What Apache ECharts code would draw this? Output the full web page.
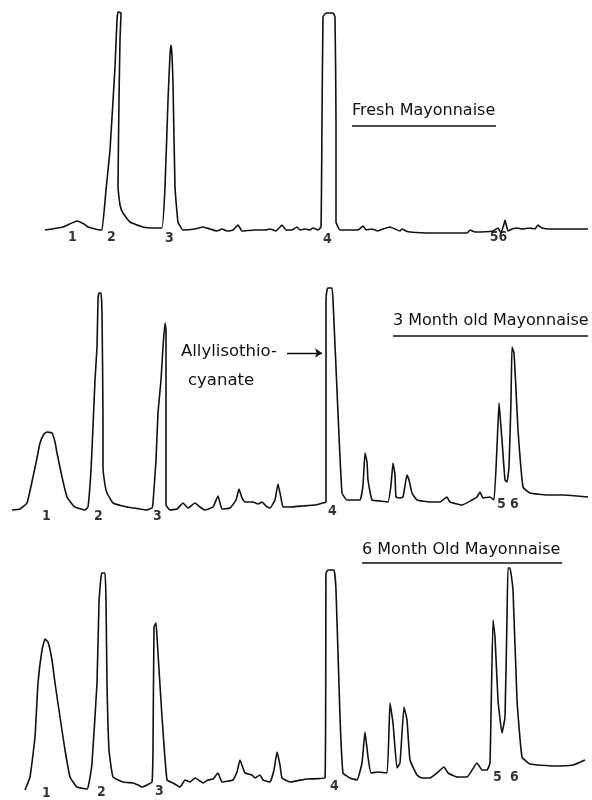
<!DOCTYPE html>
<html>
<head>
<meta charset="utf-8">
<script src="https://cdn.jsdelivr.net/npm/echarts@6/dist/echarts.min.js"></script>
<style>
html,body{margin:0;padding:0;background:#fff;}
#chart{width:592px;height:800px;}
</style>
</head>
<body>
<div id="chart"></div>
<script>
// Retention (arbitrary units) and detector response (arbitrary units)
var freshTrace = [
 [45,0],[63,3],[77,9],[84,6],[88,3],[95,1],[100,0],[102,0],[106,40],[110,80],[115,163],[117,210],[118,218],[121,217],
 [120,190],[119,130],[118,43],[120,25],[123,17],[130,8],[143,3],[155,2],[162,2],[165,43],[168,130],[170,175],[171,185],
 [172,175],[173,147],[175,43],[178,8],[183,0],[195,1],[203,3],[210,1],[217,-1],[222,1],[227,-1],[233,0],[238,5],[242,-1],
 [255,0],[265,0],[270,1],[276,-1],[282,5],[286,0],[292,0],[297,3],[300,0],[305,1],[310,0],[313,2],[318,0],[321,3],
 [322,110],[323,213],[325,216],[327,217],[333,217],[335,213],[336,110],[336,8],[340,0],[350,0],[358,0],[363,4],[366,0],
 [372,1],[378,-1],[383,1],[390,3],[395,1],[400,-1],[402,1],[406,-1],[410,-2],[430,-3],[450,-3],[467,-3],[470,0],[475,-2],
 [493,-1],[498,2],[501,-3],[504,6],[505,10],[506,6],[508,-1],[512,1],[517,2],[522,1],[530,2],[535,1],[538,5],[542,2],
 [550,1],[567,1],[588,1]
];
var threeMonthTrace = [
 [12,0],[20,1],[27,7],[33,33],[37,52],[40,67],[44,76],[47,78],[52,77],[55,68],[57,57],[62,33],[67,13],[72,6],[75,3],
 [85,0],[88,3],[91,40],[93,83],[95,130],[97,163],[98,210],[99,217],[101,217],[102,197],[103,90],[103,43],[105,25],
 [107,17],[113,7],[127,3],[140,1],[146,0],[152,2],[153,7],[156,50],[158,97],[161,130],[163,163],[165,187],[166,180],
 [166,5],[170,0],[177,1],[183,7],[188,2],[195,7],[200,3],[205,0],[213,3],[218,14],[222,1],[230,2],[236,10],[239,21],
 [242,12],[245,8],[253,8],[258,6],[262,8],[266,4],[270,2],[275,10],[278,26],[281,12],[283,3],[290,3],[303,4],[315,5],
 [323,7],[326,8],[326,210],[327,220],[328,222],[332,222],[333,210],[338,97],[342,17],[347,10],[360,10],[363,25],[365,57],
 [367,48],[368,30],[372,10],[380,9],[388,8],[391,25],[393,47],[395,35],[396,13],[400,12],[403,13],[407,35],[409,30],
 [412,17],[417,10],[430,8],[440,8],[447,13],[450,8],[462,5],[472,10],[477,13],[480,18],[483,12],[490,13],[494,10],
 [497,63],[499,107],[500,95],[502,70],[505,30],[507,28],[509,43],[511,110],[512,163],[514,157],[516,120],[518,80],
 [523,23],[530,17],[547,15],[563,15],[577,14],[588,13]
];
var sixMonthTrace = [
 [25,0],[30,13],[35,53],[38,107],[42,140],[45,151],[48,148],[52,130],[55,107],[60,73],[65,40],[70,13],[77,3],[87,1],
 [89,7],[92,27],[97,107],[99,187],[101,213],[102,217],[105,217],[106,190],[107,107],[109,40],[113,13],[123,8],[133,7],
 [138,5],[142,3],[147,5],[152,8],[153,40],[154,163],[156,167],[157,153],[162,73],[167,10],[173,7],[180,3],[185,10],
 [190,8],[195,12],[200,9],[203,7],[208,10],[213,11],[218,17],[222,8],[233,10],[237,18],[240,30],[243,22],[245,17],
 [252,15],[255,12],[260,15],[263,10],[270,8],[274,20],[277,38],[280,25],[282,12],[290,8],[307,11],[325,12],[326,217],
 [328,220],[334,220],[336,200],[340,73],[343,17],[350,12],[357,10],[362,27],[365,58],[368,33],[371,17],[378,18],
 [387,17],[390,87],[393,67],[397,22],[400,27],[404,83],[407,70],[410,30],[417,15],[422,12],[430,12],[437,17],[444,23],
 [448,17],[457,13],[467,13],[477,27],[482,20],[487,20],[490,27],[493,170],[495,153],[498,90],[502,57],[505,73],
 [507,173],[508,222],[510,222],[513,200],[517,90],[522,33],[530,26],[553,24],[573,25],[585,30]
];

// Peak numbers: [label, retention, level]
var freshPeaks = [['1',73,-8],['2',112,-8],['3',170,-9],['4',328,-10],['56',499,-8]];
var threeMonthPeaks = [['1',47,-7],['2',99,-7],['3',158,-7],['4',333,-2],['5',502,5],['6',515,5]];
var sixMonthPeaks = [['1',47,-4],['2',102,-3],['3',160,-2],['4',335,3],['5',498,12],['6',515,12]];

var panelTitles = ['Fresh Mayonnaise', '3 Month old Mayonnaise', '6 Month Old Mayonnaise'];
var annotationLines = ['Allylisothio-', 'cyanate'];
var arrowFrom = [287, 157];
var arrowTo = [322, 157];

var traces = [freshTrace, threeMonthTrace, sixMonthTrace];
var peaks = [freshPeaks, threeMonthPeaks, sixMonthPeaks];
var gridTops = [0, 280, 560];

var INK = '#111111';
var grids = [], xAxes = [], yAxes = [], series = [];
for (var i = 0; i < 3; i++) {
  grids.push({left: 0, right: 0, top: gridTops[i], height: 240, containLabel: false});
  xAxes.push({type: 'value', gridIndex: i, min: 0, max: 592, show: false});
  yAxes.push({type: 'value', gridIndex: i, min: -10, max: 230, show: false});
  var s = {
    type: 'line', xAxisIndex: i, yAxisIndex: i, data: traces[i],
    showSymbol: false, symbol: 'none', smooth: 0.12, clip: false, silent: true,
    lineStyle: {color: INK, width: 1.6}
  };
  if (i === 1) {
    s.markLine = {
      silent: true, symbol: ['none', 'arrow'], symbolSize: 7,
      label: {show: false},
      lineStyle: {color: INK, width: 1.3, type: 'solid'},
      data: [[{coord: arrowFrom}, {coord: arrowTo}]]
    };
  }
  series.push(s);
  series.push({
    type: 'scatter', xAxisIndex: i, yAxisIndex: i, silent: true, clip: false,
    symbolSize: 1, itemStyle: {color: 'rgba(0,0,0,0)'},
    data: peaks[i].map(function (p) { return {name: p[0], value: [p[1], p[2]]}; }),
    label: {show: true, position: [0, 0], align: 'center', verticalAlign: 'middle', formatter: '{b}', color: '#000',
      textBorderWidth: 0,
      fontFamily: '"Liberation Sans Narrow", "DejaVu Sans Condensed", "DejaVu Sans", sans-serif', fontWeight: 'bold', fontSize: 14}
  });
}

var chart = echarts.init(document.getElementById('chart'), null, {renderer: 'canvas'});
chart.setOption({
  backgroundColor: '#ffffff',
  animation: false,
  grid: grids, xAxis: xAxes, yAxis: yAxes, series: series,
  graphic: [
    {type: 'text', left: 352, top: 103, style: {text: panelTitles[0], font: '16px "DejaVu Sans", sans-serif', fill: INK}},
    {type: 'line', shape: {x1: 352, y1: 126, x2: 496, y2: 126}, style: {stroke: INK, lineWidth: 1.3}},
    {type: 'text', left: 393, top: 313, style: {text: panelTitles[1], font: '16px "DejaVu Sans", sans-serif', fill: INK}},
    {type: 'line', shape: {x1: 393, y1: 336, x2: 588, y2: 336}, style: {stroke: INK, lineWidth: 1.3}},
    {type: 'text', left: 362, top: 542, style: {text: panelTitles[2], font: '16px "DejaVu Sans", sans-serif', fill: INK}},
    {type: 'line', shape: {x1: 362, y1: 563, x2: 562, y2: 563}, style: {stroke: INK, lineWidth: 1.3}},
    {type: 'text', left: 181, top: 343, style: {text: annotationLines[0], font: '16.5px "DejaVu Sans", sans-serif', fill: INK}},
    {type: 'text', left: 188, top: 372, style: {text: annotationLines[1], font: '16.5px "DejaVu Sans", sans-serif', fill: INK}}
  ]
});
</script>
</body>
</html>
